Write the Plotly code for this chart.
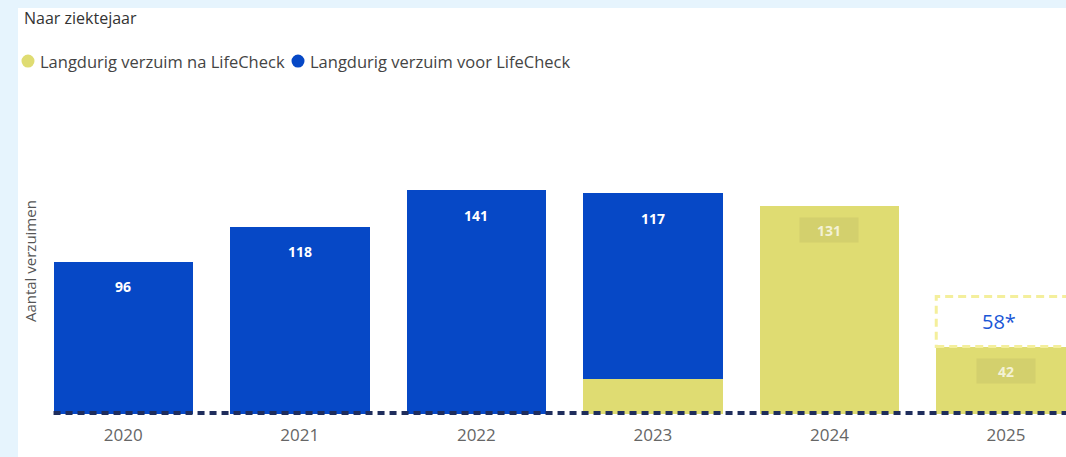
import plotly.graph_objects as go

years = ["2020", "2021", "2022", "2023", "2024", "2025"]
voor_lifecheck = [96, 118, 141, 117, 0, 0]
na_lifecheck = [0, 0, 0, 22, 131, 42]
voor_labels = ["96", "118", "141", "117", "", ""]
na_labels = ["", "", "", "", "131", "42"]
forecast_year = "2025"
forecast_top = 74
forecast_label = "58*"

BLUE = "#0648c6"
YELLOW = "#dfdc72"
FONT = "Open Sans, Noto Sans, sans-serif"

fig = go.Figure()
fig.add_trace(go.Bar(x=years, y=na_lifecheck, name="Langdurig verzuim na LifeCheck",
                     marker=dict(color=YELLOW, line=dict(width=0)), width=0.79))
fig.add_trace(go.Bar(x=years, y=voor_lifecheck, name="Langdurig verzuim voor LifeCheck",
                     marker=dict(color=BLUE, line=dict(width=0)), width=0.79))

annotations = []
for i, y in enumerate(years):
    total = voor_lifecheck[i] + na_lifecheck[i]
    if voor_labels[i]:
        annotations.append(dict(x=i, y=total, xref="x", yref="y", text="<b>%s</b>" % voor_labels[i],
                                showarrow=False, yshift=-25,
                                font=dict(color="white", size=14, family=FONT)))
    if na_labels[i]:
        annotations.append(dict(x=i, y=total, xref="x", yref="y", text="<b>%s</b>" % na_labels[i],
                                showarrow=False, yshift=-24,
                                font=dict(color="#f3f2d6", size=14, family=FONT),
                                bgcolor="rgba(175,172,95,0.25)", borderpad=4, width=50, height=16))

fi = years.index(forecast_year)
fbase = voor_lifecheck[fi] + na_lifecheck[fi]
annotations.append(dict(x=fi - 0.04, y=(fbase + forecast_top) / 2, xref="x", yref="y",
                        text=forecast_label, showarrow=False,
                        font=dict(color="#1a56d6", size=20, family=FONT)))

annotations += [
    dict(xref="paper", yref="paper", x=-0.0126, y=1.261, xanchor="left", yanchor="middle",
         text="Naar ziektejaar", showarrow=False, font=dict(color="#333", size=16, family=FONT)),
    dict(xref="paper", yref="paper", x=0.0029, y=1.124, xanchor="left", yanchor="middle",
         text="Langdurig verzuim na LifeCheck", showarrow=False,
         font=dict(color="#444", size=16.5, family=FONT)),
    dict(xref="paper", yref="paper", x=0.2648, y=1.124, xanchor="left", yanchor="middle",
         text="Langdurig verzuim voor LifeCheck", showarrow=False,
         font=dict(color="#444", size=16.5, family=FONT)),
    dict(xref="paper", yref="paper", x=-0.00485, y=0.487, xanchor="center", yanchor="middle",
         textangle=-90, text="Aantal verzuimen", showarrow=False,
         font=dict(color="#555", size=15, family=FONT)),
]

shapes = [
    dict(type="rect", xref="paper", yref="paper", x0=-0.0165, x1=1.0, y0=-0.14, y1=1.293,
         fillcolor="white", line=dict(width=0), layer="below"),
    dict(type="circle", xref="paper", yref="paper", xsizemode="pixel", ysizemode="pixel",
         xanchor=-0.0068, yanchor=1.124, x0=-6.5, x1=6.5, y0=-6.5, y1=6.5,
         fillcolor=YELLOW, line=dict(width=0)),
    dict(type="circle", xref="paper", yref="paper", xsizemode="pixel", ysizemode="pixel",
         xanchor=0.2551, yanchor=1.124, x0=-6.5, x1=6.5, y0=-6.5, y1=6.5,
         fillcolor=BLUE, line=dict(width=0)),
    dict(type="rect", xref="x", yref="y", x0=fi - 0.395, x1=fi + 0.395, y0=fbase + 0.5, y1=forecast_top,
         line=dict(color="#f4ef9c", width=3, dash="8px,5px"), fillcolor="rgba(0,0,0,0)"),
    dict(type="line", xref="x", yref="paper", x0=-0.395, x1=5.6, y0=0.003, y1=0.003,
         line=dict(color="#1f2d5c", width=4, dash="7px,5px")),
]

fig.update_layout(
    width=1066, height=457,
    barmode="stack",
    showlegend=False,
    paper_bgcolor="#e6f4fd",
    plot_bgcolor="white",
    margin=dict(l=35, r=0, t=100, b=43),
    xaxis=dict(type="category", range=[-0.5, 5.34], showgrid=False, zeroline=False, showline=False,
               ticks="outside", ticklen=6, tickcolor="rgba(0,0,0,0)",
               tickfont=dict(color="#666", size=17, family=FONT)),
    yaxis=dict(range=[0, 197.9], visible=False),
    annotations=annotations,
    shapes=shapes,
    font=dict(family=FONT),
)

fig.write_html("out.html", config={"displayModeBar": False},
               post_script="document.body.style.margin='0';")
